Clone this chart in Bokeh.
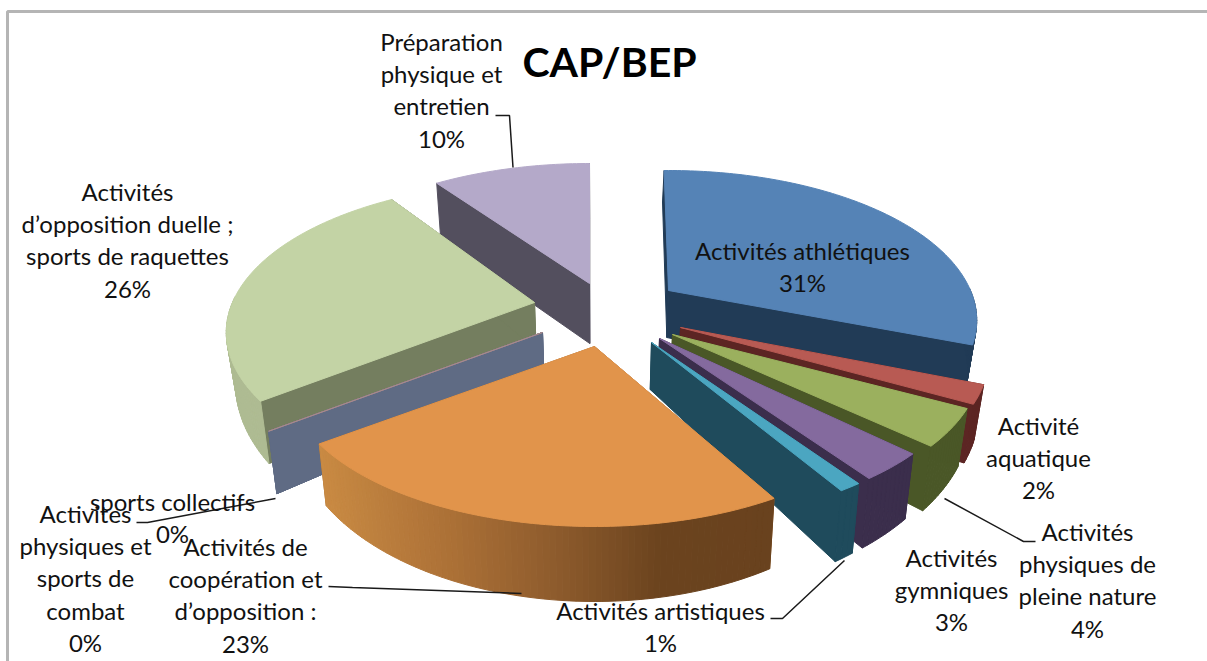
import math
from bokeh.plotting import figure
from bokeh.models import Range1d
from bokeh.core.properties import value
from bokeh.embed import file_html
from bokeh.resources import INLINE

# ---- data ----
categories = ["Activités athlétiques", "Activité aquatique", "Activités physiques de pleine nature",
              "Activités gymniques", "Activités artistiques", "Activités de coopération et d’opposition :",
              "sports collectifs", "Activites physiques et sports de combat",
              "Activités d’opposition duelle ; sports de raquettes", "Préparation physique et entretien"]
values = [31, 2, 4, 3, 1, 23, 0, 0, 26, 10]
top_colors = ["#5583b6", "#b85a53", "#9bb05e", "#846a9e", "#4ba6c1", "#e1944b", "#a98a8c", "#a98a8c", "#c3d3a5", "#b4a9c9"]
side_colors = ["#213b56", "#5c2523", "#4a5727", "#3b2e4c", "#1f4b5c", "#a56d35", "#5f6b84", "#5f6b84", "#747e5f", "#534f5e"]
arc_colors = ["#213b56", "#5c2523", "#4a5727", "#3b2e4c", "#1f4b5c", None, "#5f6b84", "#5f6b84", "#aebb92", "#534f5e"]

# ---- layout: exploded apex of each slice, small rotation, wall height ----
apex_x = [668, 680, 672, 659, 651, 594, 542, 542, 534, 589]
apex_y = [290, 327, 334, 338, 342, 346, 332, 332, 302, 283]
rotation = [-1, 0, -1, 0.5, 1, 3, 2.5, 2.5, 2.5, 0]
wall_base = [47, 47, 47, 47, 47, 48, 47, 47, 47, 60]
wall_pow = [2.2, 2.2, 2.2, 2.2, 2.2, 2.0, 2.2, 2.2, 2.2, 0.4]
draw_order = [9, 0, 8, 6, 7, 1, 2, 3, 4, 5]
RX, RY, K, CX = 302, 144, 0.2, 600

label_x = [441, 127, 802, 1038, 1087, 951, 660, 245, 172, 85]
label_y0 = [41, 191, 250, 425, 531, 557, 610, 546, 501, 513]
label_lines = [
    ["Préparation", "physique et", "entretien", "10%"],
    ["Activités", "d’opposition duelle ;", "sports de raquettes", "26%"],
    ["Activités athlétiques", "31%"],
    ["Activité", "aquatique", "2%"],
    ["Activités", "physiques de", "pleine nature", "4%"],
    ["Activités", "gymniques", "3%"],
    ["Activités artistiques", "1%"],
    ["Activités de", "coopération et", "d’opposition :", "23%"],
    ["sports collectifs", "0%"],
    ["Activites", "physiques et", "sports de", "combat", "0%"],
]
LINE_H = 32.2
leaders = [
    ([495, 509, 512.5], [115, 115, 167]),
    ([136, 147, 275], [522, 522, 498]),
    ([328, 352, 521], [586, 587, 593]),
    ([770, 782, 844], [618, 618, 560]),
    ([1035, 1023, 944], [541, 541, 498]),
]


def project(theta, i):
    t = math.radians(theta + rotation[i])
    u, v = math.sin(t), math.cos(t)
    f = 1 / (1 + K * v)
    return apex_x[i] + RX * u * f, apex_y[i] - RY * v * f, f


def lower(x, y, f, i):
    return CX + (x - CX) * 0.975, y + wall_base[i] * f ** wall_pow[i]


def mix(c1, c2, t):
    a = [int(c1[k:k + 2], 16) for k in (1, 3, 5)]
    b = [int(c2[k:k + 2], 16) for k in (1, 3, 5)]
    return "#%02x%02x%02x" % tuple(round(a[k] + (b[k] - a[k]) * t) for k in range(3))


def orange_wall(x):
    stops = [(320, "#c98a43"), (450, "#ab7036"), (550, "#8f5c2d"), (660, "#6b431e"), (780, "#69421e")]
    for (x0, c0), (x1, c1) in zip(stops, stops[1:]):
        if x <= x1:
            return mix(c0, c1, max(0, (x - x0) / (x1 - x0)))
    return stops[-1][1]


xs, ys, cols = [], [], []


def add(px, py, c):
    xs.append(px)
    ys.append(py)
    cols.append(c)


starts, acc = [], 0
total = sum(values)
for val in values:
    starts.append(acc / total * 360)
    acc += val

for i in draw_order:
    a0 = starts[i]
    a1 = a0 + values[i] / total * 360
    ax, ay = apex_x[i], apex_y[i]
    abx, aby = lower(ax, ay, 1.0, i)
    # cut faces
    for edge in (a0, a1):
        x, y, f = project(edge, i)
        bx, by = lower(x, y, f, i)
        add([ax, x, bx, abx], [ay, y, by, aby], side_colors[i])
    # outer wall, only where it faces the viewer
    w0, w1 = max(a0, 90), min(a1, 270)
    if w1 > w0:
        n = max(1, int(w1 - w0))
        step = (w1 - w0) / n
        for k in range(n):
            x0, y0, f0 = project(w0 + k * step, i)
            x1, y1, f1 = project(w0 + (k + 1) * step, i)
            bx0, by0 = lower(x0, y0, f0, i)
            bx1, by1 = lower(x1, y1, f1, i)
            c = arc_colors[i] or orange_wall((x0 + x1) / 2)
            add([x0, x1, bx1, bx0], [y0, y1, by1, by0], c)
    # top face
    n = max(2, int(a1 - a0) + 1)
    tx, ty = [ax], [ay]
    for k in range(n + 1):
        x, y, _ = project(a0 + (a1 - a0) * k / n, i)
        tx.append(x)
        ty.append(y)
    add(tx, ty, top_colors[i])

p = figure(width=1215, height=669, x_range=Range1d(-8, 1207), y_range=Range1d(661, -8),
           output_backend="svg", toolbar_location=None, min_border=0,
           margin=(-8, -8, -8, -8), outline_line_color=None, background_fill_color="white")
p.axis.visible = False
p.grid.visible = False

# frame
p.line([7, 7, 1207], [661, 11, 11], line_color="#b5b5b5", line_width=3)

p.patches(xs, ys, fill_color=cols, line_color=cols, line_width=1)

for lx, ly in leaders:
    p.line(lx, ly, line_color="#1a1a1a", line_width=1.5)

tx, ty, tt = [], [], []
for x, y0, lines in zip(label_x, label_y0, label_lines):
    for k, s in enumerate(lines):
        tx.append(x)
        ty.append(y0 + k * LINE_H)
        tt.append(s)
p.text(tx, ty, text=tt, text_font=value("Lato"), text_font_size=value("24px"),
       text_align="center", text_baseline="middle", text_color="#111111")
p.text([609], [61], text=["CAP/BEP"], text_font=value("Lato"), text_font_size=value("41px"),
       text_font_style="bold", text_align="center", text_baseline="middle", text_color="#000000")

open("out.html", "w").write(file_html(p, INLINE))
